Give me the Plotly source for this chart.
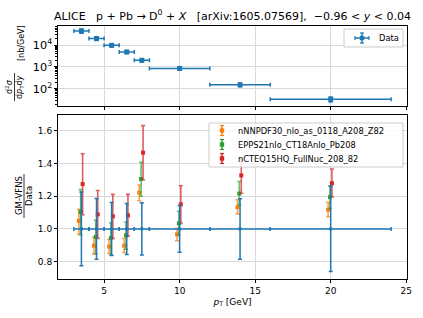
import plotly.graph_objects as go

# ---------------- data ----------------
pt = [3.5, 4.5, 5.5, 6.5, 7.5, 10.0, 14.0, 20.0]
pt_halfwidth = [0.5, 0.5, 0.5, 0.5, 0.5, 2.0, 2.0, 4.0]

xsec = [4.4e4, 2.0e4, 9.7e3, 4.8e3, 2.0e3, 850.0, 152.0, 33.0]      # nb/GeV
data_rel_err = [0.225, 0.186, 0.162, 0.156, 0.160, 0.143, 0.185, 0.26]

nnpdf_c  = [1.049, 0.898, 0.892, 0.898, 1.222, 0.967, 1.133, 1.117]
nnpdf_hi = [1.120, 0.949, 0.935, 0.943, 1.268, 1.004, 1.178, 1.162]
nnpdf_lo = [0.969, 0.847, 0.850, 0.856, 1.172, 0.928, 1.092, 1.074]

epps_c  = [1.104, 0.951, 0.945, 0.961, 1.305, 1.034, 1.216, 1.194]
epps_hi = [1.240, 1.053, 1.038, 1.042, 1.407, 1.108, 1.290, 1.262]
epps_lo = [0.963, 0.847, 0.841, 0.876, 1.200, 0.961, 1.147, 1.125]

ncteq_c  = [1.274, 1.089, 1.077, 1.083, 1.466, 1.150, 1.327, 1.279]
ncteq_hi = [1.459, 1.235, 1.211, 1.211, 1.631, 1.264, 1.430, 1.366]
ncteq_lo = [1.087, 0.942, 0.942, 0.956, 1.300, 1.034, 1.218, 1.196]

names = ["nNNPDF30_nlo_as_0118_A208_Z82",
         "EPPS21nlo_CT18Anlo_Pb208",
         "nCTEQ15HQ_FullNuc_208_82"]

# ---------------- style ----------------
BLUE, ORANGE, GREEN, RED = "#1f77b4", "#ff7f0e", "#2ca02c", "#d62728"
ERRC = {ORANGE: "rgba(255,127,14,0.75)", GREEN: "rgba(44,160,44,0.7)",
        RED: "rgba(214,39,40,0.75)"}
DODGE = [-0.17, -0.05, 0.08]
FONT = "DejaVu Sans"
W, H = 423, 318
ML, MR, MT, MB = 58, 16, 26, 39
PW, PH = W - ML - MR, H - MT - MB


def px(xpix):
    return (xpix - ML) / PW


def py(ypix):
    return (H - MB - ypix) / PH


fig = go.Figure()

# top panel: cross section
fig.add_trace(go.Scatter(
    x=pt, y=xsec, mode="markers", name="Data", showlegend=False,
    marker=dict(symbol="square", size=5, color=BLUE),
    error_x=dict(type="data", array=pt_halfwidth, color=BLUE, thickness=1.5, width=2),
    error_y=dict(type="data", array=[v * e for v, e in zip(xsec, data_rel_err)],
                 color=BLUE, thickness=1.5, width=2),
    xaxis="x", yaxis="y"))

# bottom panel: theory / data
theories = [(nnpdf_c, nnpdf_hi, nnpdf_lo, ORANGE),
            (epps_c, epps_hi, epps_lo, GREEN),
            (ncteq_c, ncteq_hi, ncteq_lo, RED)]
for (c, hi, lo, col), nm, dx in zip(theories, names, DODGE):
    fig.add_trace(go.Scatter(
        x=[p + dx for p in pt], y=c, mode="markers", name=nm, showlegend=False,
        marker=dict(symbol="square", size=4, color=col),
        error_y=dict(type="data", symmetric=False,
                     array=[h - v for h, v in zip(hi, c)],
                     arrayminus=[v - l for l, v in zip(lo, c)],
                     color=ERRC[col], thickness=1.6, width=2),
        xaxis="x2", yaxis="y2"))

fig.add_trace(go.Scatter(
    x=pt, y=[1.0] * len(pt), mode="markers", name="Data", showlegend=False,
    marker=dict(symbol="square", size=3, color=BLUE),
    error_x=dict(type="data", array=pt_halfwidth, color=BLUE, thickness=1.5, width=2),
    error_y=dict(type="data", array=data_rel_err, color=BLUE, thickness=1.5, width=2),
    xaxis="x2", yaxis="y2"))

axis_common = dict(showline=True, linecolor="black", linewidth=1, mirror=True,
                   ticks="outside", ticklen=3, tickcolor="black",
                   showgrid=True, gridcolor="#d9d9d9", gridwidth=1,
                   zeroline=False, tickfont=dict(size=9, color="black", family=FONT))

fig.update_layout(
    width=W, height=H,
    margin=dict(l=ML, r=MR, t=MT, b=MB, autoexpand=False),
    paper_bgcolor="white", plot_bgcolor="white",
    font=dict(family=FONT, color="black", size=9),
    showlegend=False,
    title=dict(text="ALICE   p + Pb → D<sup>0</sup> + <i>X</i>   [arXiv:1605.07569],  −0.96 < <i>y</i> < 0.04",
               x=(ML + PW / 2) / W, xanchor="center", y=1 - 16 / H, yanchor="middle",
               font=dict(size=11, family=FONT, color="black")),
    xaxis=dict(domain=[0, 1], range=[1.95, 25.05], tickvals=[5, 10, 15, 20, 25],
               showticklabels=False, anchor="y", matches="x2", **axis_common),
    yaxis=dict(domain=[py(106), 1.0], type="log", range=[1.21, 4.87], dtick=1,
               exponentformat="power", anchor="x",
               minor=dict(ticks="outside", ticklen=2, tickcolor="black", showgrid=False),
               **axis_common),
    xaxis2=dict(domain=[0, 1], range=[1.95, 25.05], tickvals=[5, 10, 15, 20, 25],
                anchor="y2",
                title=dict(text="<i>p</i><sub>T</sub> [GeV]", standoff=3,
                           font=dict(size=9, family=FONT)),
                **axis_common),
    yaxis2=dict(domain=[0, py(115)], range=[0.694, 1.696],
                tickvals=[0.8, 1.0, 1.2, 1.4, 1.6], tickformat=".1f",
                anchor="x2", **axis_common),
)

# ---- y-axis titles drawn as fractions ----
def vtext(text, xpix, ypix, size=8):
    fig.add_annotation(text=text, xref="paper", yref="paper", x=px(xpix), y=py(ypix),
                       textangle=-90, showarrow=False, xanchor="center", yanchor="middle",
                       font=dict(size=size, family=FONT, color="black"))


vtext("d<sup>2</sup><i>σ</i>", 9, 87)
vtext("d<i>p</i><sub>T</sub>d<i>y</i>", 20, 87)
fig.add_shape(type="line", xref="paper", yref="paper", x0=px(14.5), x1=px(14.5),
              y0=py(101), y1=py(73), line=dict(color="black", width=0.8))
vtext("[nb/GeV]", 22, 43)

vtext("GM-VFNS", 19, 196, 8.5)
vtext("Data", 29, 196, 8.5)
fig.add_shape(type="line", xref="paper", yref="paper", x0=px(24), x1=px(24),
              y0=py(218), y1=py(174), line=dict(color="black", width=0.8))

# ---- legends (matplotlib style, drawn above the data) ----
def box(x0, y0, x1, y1):
    fig.add_shape(type="rect", xref="paper", yref="paper", layer="above",
                  x0=px(x0), x1=px(x1), y0=py(y1), y1=py(y0),
                  fillcolor="rgba(255,255,255,0.8)", line=dict(color="#cccccc", width=1))


def seg(x0, y0, x1, y1, col, w=1.5):
    fig.add_shape(type="line", xref="paper", yref="paper", layer="above",
                  x0=px(x0), x1=px(x1), y0=py(y0), y1=py(y1), line=dict(color=col, width=w))


def icon(xc, yc, col, horizontal=False):
    seg(xc, yc - 5, xc, yc + 5, col)
    seg(xc - 2, yc - 5, xc + 2, yc - 5, col, 1.2)
    seg(xc - 2, yc + 5, xc + 2, yc + 5, col, 1.2)
    if horizontal:
        seg(xc - 7, yc, xc + 7, yc, col)
        seg(xc - 7, yc - 2, xc - 7, yc + 2, col, 1.2)
        seg(xc + 7, yc - 2, xc + 7, yc + 2, col, 1.2)
    fig.add_shape(type="rect", xref="paper", yref="paper", layer="above",
                  x0=px(xc - 2.2), x1=px(xc + 2.2), y0=py(yc + 2.2), y1=py(yc - 2.2),
                  fillcolor=col, line=dict(width=0))


def label(text, xpix, ypix):
    fig.add_annotation(text=text, xref="paper", yref="paper", x=px(xpix), y=py(ypix),
                       xanchor="left", yanchor="middle", showarrow=False,
                       font=dict(size=8.3, family=FONT, color="black"))


box(344, 29, 403, 47)
icon(362, 38, BLUE, horizontal=True)
label("Data", 377, 38)

box(209, 123, 403, 167)
for yc, nm, col in zip([130.5, 144.5, 158.5], names, [ORANGE, GREEN, RED]):
    icon(222, yc, col)
    label(nm, 236, yc)

fig.write_html("out.html", config={"displayModeBar": False},
               post_script="document.body.style.margin='0px';")
